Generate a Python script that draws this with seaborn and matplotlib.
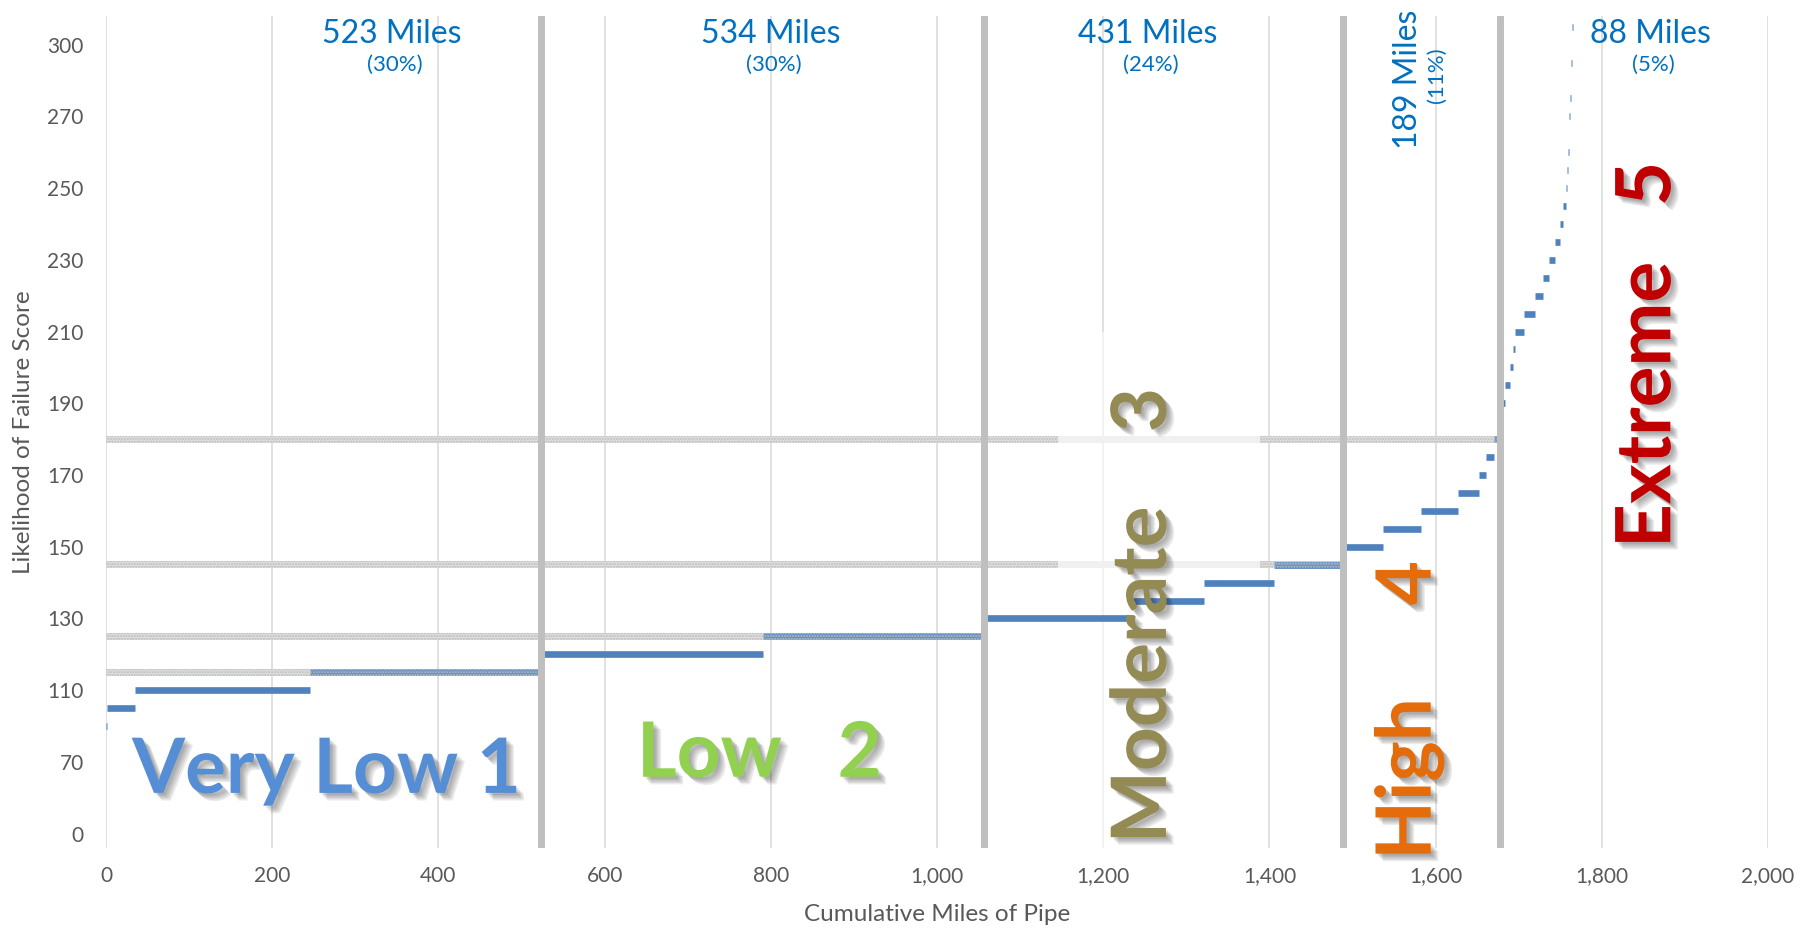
import numpy as np
import pandas as pd
import matplotlib
matplotlib.use("Agg")
import matplotlib.pyplot as plt
import matplotlib.patheffects as pe
from matplotlib.patches import Rectangle
import seaborn as sns

# Likelihood-of-failure score for each run of pipe (sorted ascending) and the
# cumulative mileage at which that run ends.
scores = [95, 100, 105, 110, 115, 120, 125, 130, 135, 140,
          145, 150, 155, 160, 165, 170, 175, 180, 185, 190,
          195, 200, 205, 210, 215, 220, 225, 230, 235, 240,
          245, 250, 255, 260, 265, 270, 275, 280, 285, 290, 295]
run_end_miles = [0.3, 0.8, 35, 245, 523, 791, 1057, 1236, 1321, 1405,
                 1488, 1537, 1582, 1627, 1652, 1661, 1670, 1675, 1680, 1683,
                 1689.5, 1693.5, 1695.5, 1706, 1720, 1729, 1736, 1743.5, 1750, 1753.7,
                 1757, 1758.5, 1759.5, 1760.3, 1761, 1761.7, 1762.4, 1763, 1763.6, 1764.2, 1765]

# Risk tiers
tier_names = ["Very Low", "Low", "Moderate", "High", "Extreme"]
tier_numbers = [1, 2, 3, 4, 5]
tier_miles = [523, 534, 431, 189, 88]
tier_share = [30, 30, 24, 11, 5]
tier_upper_score = [115, 125, 145, 180]

# Y axis tick positions and their printed labels
y_tick_values = [70, 90, 110, 130, 150, 170, 190, 210, 230, 250, 270, 290]
y_tick_labels = ["0", "70", "110", "130", "150", "170", "190", "210", "230", "250", "270", "300"]
x_ticks = list(range(0, 2001, 200))

BLUE = "#4f81bd"
TEXT_BLUE = "#0070c0"
GRID = "#d9d9d9"
DIVIDER = "#bfbfbf"
LABEL = "#595959"
tier_colors = ["#558ed5", "#92d050", "#948a54", "#e46c0a", "#c00000"]

sns.set_theme(style="white")
plt.rcParams["font.family"] = ["Lato", "DejaVu Sans"]
plt.rcParams["hatch.linewidth"] = 1.0

run_start_miles = [0.0] + run_end_miles[:-1]
rows = []
for i, (s, a, b) in enumerate(zip(scores, run_start_miles, run_end_miles)):
    rows.append({"miles": a, "score": s, "run": i})
    rows.append({"miles": b, "score": s, "run": i})
runs = pd.DataFrame(rows)

tier_bounds = np.cumsum(tier_miles)

fig = plt.figure(figsize=(18.14, 9.33), dpi=100)
ax = fig.add_axes([0.05844, 0.0911, 0.9162, 0.8918])
ax.set_xlim(0, 2000)
ax.set_ylim(66, 298)

# vertical gridlines
for xv in x_ticks:
    ax.axvline(xv, color=GRID, lw=1.1, zorder=0.5)

# tier threshold bands (light textured gray)
band_h = 0.95
mod_box = (1146, 1389)
for thr, right in zip(tier_upper_score, tier_bounds[:4]):
    ax.fill_between([0, right], thr - band_h, thr + band_h, color="#dadada", lw=0, zorder=1)

# translucent box behind the rotated "Moderate" label
ax.add_patch(Rectangle((mod_box[0], 66), mod_box[1] - mod_box[0], 210 - 66,
                       facecolor="white", alpha=0.6, lw=0, zorder=2))

# the stepped score profile
sns.lineplot(data=runs, x="miles", y="score", units="run", estimator=None, sort=False,
             color=BLUE, lw=4.8, solid_capstyle="butt", ax=ax, zorder=3, legend=False)

# texture over the threshold bands
for thr, right in zip(tier_upper_score, tier_bounds[:4]):
    pieces = [(0, right)]
    if right > mod_box[0] and thr < 210:
        pieces = [(0, mod_box[0]), (mod_box[1], right)]
    for a, b in pieces:
        if b <= a:
            continue
        ax.fill_between([a, b], thr - band_h, thr + band_h, facecolor=(1, 1, 1, 0.12),
                        edgecolor="#bdbdbd", hatch="......", lw=0, zorder=4)

# tier dividers
for xb in tier_bounds[:4]:
    ax.axvline(xb, color=DIVIDER, lw=5.0, zorder=5)

# mileage headers
head_x = [344, 800, 1253, None, 1858]
for i in [0, 1, 2, 4]:
    ax.text(head_x[i], 293, f"{tier_miles[i]} Miles", color=TEXT_BLUE, fontsize=23,
            ha="center", va="center", zorder=6)
    ax.text(head_x[i] + 4, 284.3, f"({tier_share[i]}%)", color=TEXT_BLUE, fontsize=16,
            ha="center", va="center", zorder=6)
ax.text(1567, 280.3, f"{tier_miles[3]} Miles", color=TEXT_BLUE, fontsize=23, rotation=90,
        ha="center", va="center", zorder=6, clip_on=False)
ax.text(1602, 281.4, f"({tier_share[3]}%)", color=TEXT_BLUE, fontsize=16, rotation=90,
        ha="center", va="center", zorder=6)

# tier names with a soft drop shadow
shadow = [pe.SimplePatchShadow(offset=(o, -o), shadow_rgbFace=(0.15, 0.15, 0.15), alpha=0.09)
          for o in (1.5, 2.5, 3.5, 4.5, 5.5)] + [pe.Normal()]
big = dict(fontsize=55, fontweight="bold", ha="center", va="center", zorder=7, path_effects=shadow)
ax.text(265, 87.5, f"{tier_names[0]} {tier_numbers[0]}", color=tier_colors[0], **big)
ax.text(786, 92, f"{tier_names[1]}   {tier_numbers[1]}", color=tier_colors[1], **big)
ax.text(1249, 130.7, f"{tier_names[2]}    {tier_numbers[2]}", color=tier_colors[2], rotation=90, **big)
ax.text(1569, 104.3, f"{tier_names[3]}     {tier_numbers[3]}", color=tier_colors[3], rotation=90, **big)
ax.text(1856, 203.4, f"{tier_names[4]}   {tier_numbers[4]}", color=tier_colors[4], rotation=90, **big)

ax.set_xticks(x_ticks)
ax.set_xticklabels([f"{v:,}" for v in x_ticks])
ax.set_yticks(y_tick_values)
ax.set_yticklabels(y_tick_labels)
ax.tick_params(axis="both", length=0, labelsize=15, labelcolor=LABEL)
ax.tick_params(axis="x", pad=13)
ax.tick_params(axis="y", pad=16)
ax.set_xlabel("Cumulative Miles of Pipe", fontsize=17.5, color=LABEL, labelpad=13)
ax.set_ylabel("Likelihood of Failure Score", fontsize=17.5, color=LABEL, labelpad=10)
ax.grid(False)
for sp in ax.spines.values():
    sp.set_visible(False)

fig.savefig("out.png", dpi=100, facecolor="white")
